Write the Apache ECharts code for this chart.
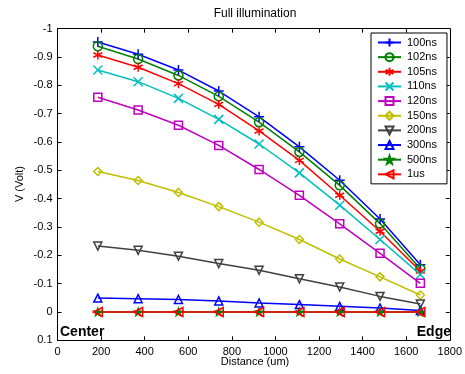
<!DOCTYPE html>
<html><head><meta charset="utf-8">
<script src="https://cdn.jsdelivr.net/npm/echarts@6/dist/echarts.min.js"></script>
<style>html,body{margin:0;padding:0;background:#fff}#c{width:465px;height:374px}</style>
</head><body><div id="c"></div>
<script>
const distance = [185, 370, 555, 740, 925, 1110, 1295, 1480, 1665];
const names = ['100ns','102ns','105ns','110ns','120ns','150ns','200ns','300ns','500ns','1us'];
const v100 = [-0.953,-0.910,-0.854,-0.780,-0.689,-0.583,-0.465,-0.328,-0.167];
const v102 = [-0.938,-0.893,-0.835,-0.761,-0.670,-0.565,-0.447,-0.312,-0.153];
const v105 = [-0.907,-0.864,-0.806,-0.733,-0.639,-0.535,-0.412,-0.285,-0.144];
const v110 = [-0.854,-0.813,-0.754,-0.680,-0.593,-0.491,-0.377,-0.256,-0.132];
const v120 = [-0.758,-0.713,-0.659,-0.588,-0.503,-0.412,-0.311,-0.207,-0.101];
const v150 = [-0.496,-0.464,-0.422,-0.372,-0.317,-0.256,-0.187,-0.124,-0.060];
const v200 = [-0.233,-0.218,-0.197,-0.171,-0.147,-0.117,-0.088,-0.055,-0.028];
const v300 = [-0.049,-0.047,-0.044,-0.039,-0.032,-0.026,-0.020,-0.014,-0.005];
const v500 = [0,0,0,0,0,0,0,0,0];
const v1us = [0,0,0,0,0,0,0,0,0];
const allValues = [v100,v102,v105,v110,v120,v150,v200,v300,v500,v1us];
const colors = ['#0000ff','#008000','#ff0000','#00bfbf','#bf00bf','#bfbf00','#404040','#0000ff','#008000','#ff0000'];
const symbols = [
  'path://M5,0 L5,10 M0,5 L10,5',
  'circle',
  'path://M5,0 L5,10 M0.7,2.5 L9.3,7.5 M0.7,7.5 L9.3,2.5',
  'path://M0,0 L10,10 M0,10 L10,0',
  'rect',
  'diamond',
  'path://M0,0 L10,0 L5,9 Z',
  'path://M5,0 L10,9 L0,9 Z',
  'path://M5,0 L6.18,3.45 L9.76,3.45 L6.91,5.59 L7.94,9.05 L5,7 L2.06,9.05 L3.09,5.59 L0.24,3.45 L3.82,3.45 Z',
  'path://M9,0 L9,10 L0,5 Z'
];
const sizes = [10,9,9,9,8,8,8,8,7,9];
const filled = [false,false,false,false,false,false,false,false,true,false];

const chart = echarts.init(document.getElementById('c'), null, {renderer:'canvas'});
const font = 'Liberation Sans, Arial, Helvetica, sans-serif';
const series = names.map((n,i)=>({
  name:n, type:'line', xAxisIndex:0, yAxisIndex:0,
  data: distance.map((d,j)=>[d, allValues[i][j]]),
  symbol: symbols[i], symbolSize: sizes[i], showAllSymbol:true,
  lineStyle:{color:colors[i], width:1.5},
  itemStyle:{color: filled[i]?colors[i]:'rgba(0,0,0,0)', borderColor:colors[i], borderWidth:1.5},
  emphasis:{disabled:true}, animation:false, clip:false
}));
const fmtY = v => { const r = parseFloat(Number(v).toFixed(1)); return (r===0?0:r).toString(); };
const fmtX = v => String(Math.round(v));
chart.setOption({
  animation:false,
  backgroundColor:'#fff',
  grid:{left:57.5, right:12.3, top:28.7, bottom:33.7, containLabel:false},
  xAxis:[
    {type:'value', min:0, max:1800, interval:200, position:'bottom',
     axisLine:{onZero:false, lineStyle:{color:'#000', width:1}},
     axisTick:{inside:true, length:4, lineStyle:{color:'#000'}},
     axisLabel:{color:'#000', fontSize:11, fontFamily:font, margin:6, formatter:fmtX},
     splitLine:{show:false}},
    {type:'value', min:0, max:1800, interval:200, position:'top',
     axisLine:{onZero:false, lineStyle:{color:'#000', width:1}},
     axisTick:{inside:true, length:4, lineStyle:{color:'#000'}},
     axisLabel:{show:false}, splitLine:{show:false}}
  ],
  yAxis:[
    {type:'value', min:-1, max:0.1, interval:0.1, inverse:true, position:'left',
     axisLine:{onZero:false, lineStyle:{color:'#000', width:1}},
     axisTick:{inside:true, length:4, lineStyle:{color:'#000'}},
     axisLabel:{color:'#000', fontSize:11, fontFamily:font, margin:5, formatter:fmtY},
     splitLine:{show:false}},
    {type:'value', min:-1, max:0.1, interval:0.1, inverse:true, position:'right',
     axisLine:{onZero:false, lineStyle:{color:'#000', width:1}},
     axisTick:{inside:true, length:4, lineStyle:{color:'#000'}},
     axisLabel:{show:false}, splitLine:{show:false}}
  ],
  legend:{
    orient:'vertical', left:371, top:33, data:names,
    backgroundColor:'#fff', borderColor:'#000', borderWidth:1, borderRadius:0,
    padding:[4,10,4,6], itemWidth:23, itemHeight:10, itemGap:3.65,
    textStyle:{color:'#000', fontSize:11, fontFamily:font, padding:[0,0,0,1]},
    selectedMode:false
  },
  graphic:[
    {type:'text', style:{text:'Full illumination', x:255, y:14, textAlign:'center', textVerticalAlign:'middle', fill:'#000', font:'12px '+font}, silent:true},
    {type:'text', style:{text:'Center', x:60, y:332, textAlign:'left', textVerticalAlign:'middle', fill:'#000', font:'bold 14px '+font}},
    {type:'text', style:{text:'Edge', x:451, y:332, textAlign:'right', textVerticalAlign:'middle', fill:'#000', font:'bold 14px '+font}},
    {type:'text', style:{text:'Distance (um)', x:255, y:362, textAlign:'center', textVerticalAlign:'middle', fill:'#000', font:'11px '+font}},
    {type:'text', rotation:Math.PI/2, x:20, y:184, style:{text:'V (Volt)', x:0, y:0, textAlign:'center', textVerticalAlign:'middle', fill:'#000', font:'11px '+font}}
  ],
  series: series
});
</script></body></html>
